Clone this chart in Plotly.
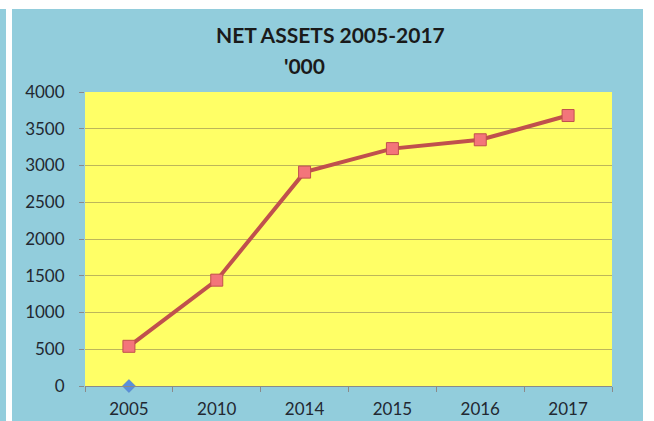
import plotly.graph_objects as go

years = ["2005", "2010", "2014", "2015", "2016", "2017"]
net_assets = [540, 1440, 2910, 3230, 3350, 3680]
series2 = [0, None, None, None, None, None]
y_ticks = [0, 500, 1000, 1500, 2000, 2500, 3000, 3500, 4000]

W, H = 654, 421
L, R, T, B = 85, 42, 92, 35
pw, ph = W - L - R, H - T - B

def px(x):
    return (x - L) / pw

def py(y):
    return (H - B - y) / ph

fig = go.Figure()
fig.add_trace(go.Scatter(
    x=years, y=net_assets, mode="lines+markers",
    line=dict(color="#C0504D", width=4),
    marker=dict(symbol="square", size=12, color="#F3757A",
                line=dict(color="#C0504D", width=1)),
    cliponaxis=False, showlegend=False, hoverinfo="skip"))
fig.add_trace(go.Scatter(
    x=years, y=series2, mode="markers",
    marker=dict(symbol="diamond", size=10, color="#5B8EDB",
                line=dict(color="#4A78C0", width=0.5)),
    cliponaxis=False, showlegend=False, hoverinfo="skip"))

font = "Lato, Calibri, sans-serif"
tick_font = dict(size=17, color="#222831", family=font)
fig.update_layout(
    width=W, height=H,
    margin=dict(l=L, r=R, t=T, b=B),
    paper_bgcolor="#92CDDC",
    plot_bgcolor="#FFFF66",
    font=dict(family=font, color="#222831", size=17),
    xaxis=dict(type="category", range=[-0.5, len(years) - 0.5],
               showgrid=False, showline=True,
               linecolor="#8a8a8a", linewidth=1,
               ticks="outside", tickson="boundaries", ticklen=5,
               tickcolor="#8a8a8a", tickfont=tick_font,
               ticklabelstandoff=8, automargin=False, fixedrange=True),
    yaxis=dict(range=[0, 4000], tickvals=y_ticks, showgrid=True,
               gridcolor="#BDB65A", gridwidth=1, zeroline=False,
               showline=False, ticks="outside", ticklen=5,
               tickcolor="#8a8a8a", tickfont=tick_font,
               ticklabelstandoff=11, automargin=False, fixedrange=True),
    shapes=[
        dict(type="rect", xref="paper", yref="paper",
             x0=px(0), x1=px(W), y0=py(0), y1=py(9),
             fillcolor="white", line=dict(width=0), layer="above"),
        dict(type="rect", xref="paper", yref="paper",
             x0=px(6), x1=px(12), y0=py(0), y1=py(H),
             fillcolor="white", line=dict(width=0), layer="above"),
        dict(type="rect", xref="paper", yref="paper",
             x0=px(643), x1=px(W), y0=py(0), y1=py(H),
             fillcolor="white", line=dict(width=0), layer="above"),
    ],
    annotations=[
        dict(text="<b>NET ASSETS 2005-2017</b>", xref="paper", yref="paper",
             x=px(330), y=py(35), xanchor="center", yanchor="middle",
             showarrow=False, font=dict(size=21, color="#1a1a1a", family=font)),
        dict(text="<b>'000</b>", xref="paper", yref="paper",
             x=px(304), y=py(66), xanchor="center", yanchor="middle",
             showarrow=False, font=dict(size=21, color="#1a1a1a", family=font)),
    ],
)

fig.write_html("out.html", config={"displayModeBar": False, "staticPlot": True},
               post_script="document.body.style.margin='0';")
